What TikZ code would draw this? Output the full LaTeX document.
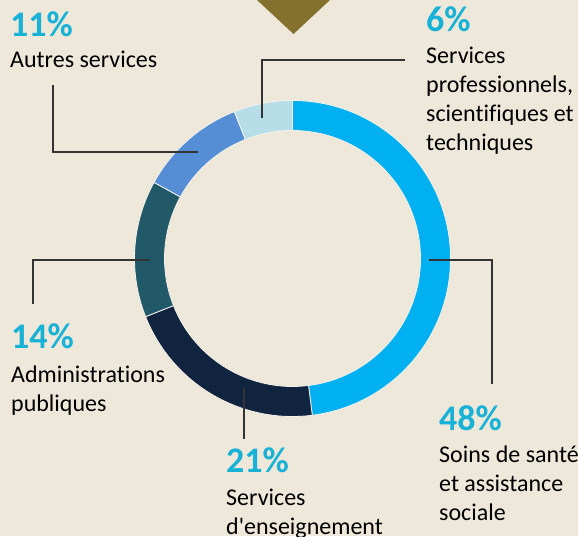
\documentclass[tikz,border=0pt]{standalone}
\usepackage{fontspec}
\setmainfont[Ligatures={NoCommon}]{Carlito}
\usetikzlibrary{positioning}
\definecolor{bgbeige}{RGB}{238,232,218}
\definecolor{tribrown}{RGB}{133,113,46}
\definecolor{pctblue}{RGB}{24,178,215}
\definecolor{segA}{RGB}{0,176,240}
\definecolor{segB}{RGB}{16,36,63}
\definecolor{segC}{RGB}{33,89,104}
\definecolor{segD}{RGB}{85,142,213}
\definecolor{segE}{RGB}{183,222,232}
\definecolor{leadgray}{RGB}{51,51,51}
\tikzset{
  pct/.style={anchor=base west, inner sep=0pt, text=pctblue, font=\fontsize{36}{40}\selectfont\bfseries},
  lbl/.style={anchor=base west, inner sep=0pt, align=left, font=\fontsize{24}{29}\selectfont},
  leader/.style={draw=leadgray, line width=2pt},
  seg/.style={draw=bgbeige!50!white, line width=0.8pt}
}
\begin{document}
\begin{tikzpicture}[x=1pt,y=1pt]
\fill[bgbeige] (0,0) rectangle (578,536);
\useasboundingbox (0,0) rectangle (578,536);

% marker at the top
\fill[tribrown] (257,536) -- (330,536) -- (293.5,502) -- cycle;

% ring
\begin{scope}[shift={(292.5,277.5)}]
\fill[segA,seg] (90:158) arc[start angle=90,end angle=-82.8,radius=158] -- (-82.8:128) arc[start angle=-82.8,end angle=90,radius=128] -- cycle;
\fill[segB,seg] (-82.8:158) arc[start angle=-82.8,end angle=-158.4,radius=158] -- (-158.4:128) arc[start angle=-158.4,end angle=-82.8,radius=128] -- cycle;
\fill[segC,seg] (-158.4:158) arc[start angle=-158.4,end angle=-208.8,radius=158] -- (-208.8:128) arc[start angle=-208.8,end angle=-158.4,radius=128] -- cycle;
\fill[segD,seg] (-208.8:158) arc[start angle=-208.8,end angle=-248.4,radius=158] -- (-248.4:128) arc[start angle=-248.4,end angle=-208.8,radius=128] -- cycle;
\fill[segE,seg] (-248.4:158) arc[start angle=-248.4,end angle=-270,radius=158] -- (-270:128) arc[start angle=-270,end angle=-248.4,radius=128] -- cycle;
\end{scope}

% labels (base anchor sits on the last line)
\node (pct11) [pct] at (10,499) {11\%};
\node (lbl11) [lbl, below=31pt of pct11.base west, anchor=base west] {Autres services};
\node (pct6) [pct] at (426,504) {6\%};
\node (lbl6) [lbl, below=119pt of pct6.base west, anchor=base west] {Services\\professionnels,\\scientifiques et\\techniques};
\node (pct14) [pct] at (11,188) {14\%};
\node (lbl14) [lbl, below=63pt of pct14.base west, anchor=base west] {Administrations\\publiques};
\node (pct48) [pct] at (439,106) {48\%};
\node (lbl48) [lbl, below=90pt of pct48.base west, anchor=base west] {Soins de santé\\et assistance\\sociale};
\node (pct21) [pct] at (226,64) {21\%};
\node (lbl21) [lbl, below=62pt of pct21.base west, anchor=base west] {Services\\d\textquotesingle enseignement};

% leader lines
\coordinate (r48) at (429,276);
\coordinate (e48) at (492,152);
\coordinate (r21) at (244,148);
\coordinate (e21) at (244,97);
\coordinate (r14) at (150,276);
\coordinate (e14) at (33,232);
\coordinate (r11) at (198,384);
\coordinate (e11) at (53,451);
\coordinate (r6) at (262,418);
\coordinate (e6) at (405,476);
\draw[leader] (r48) -| (e48);
\draw[leader] (r21) -- (e21);
\draw[leader] (r14) -| (e14);
\draw[leader] (r11) -| (e11);
\draw[leader] (r6) |- (e6);
\end{tikzpicture}
\end{document}
